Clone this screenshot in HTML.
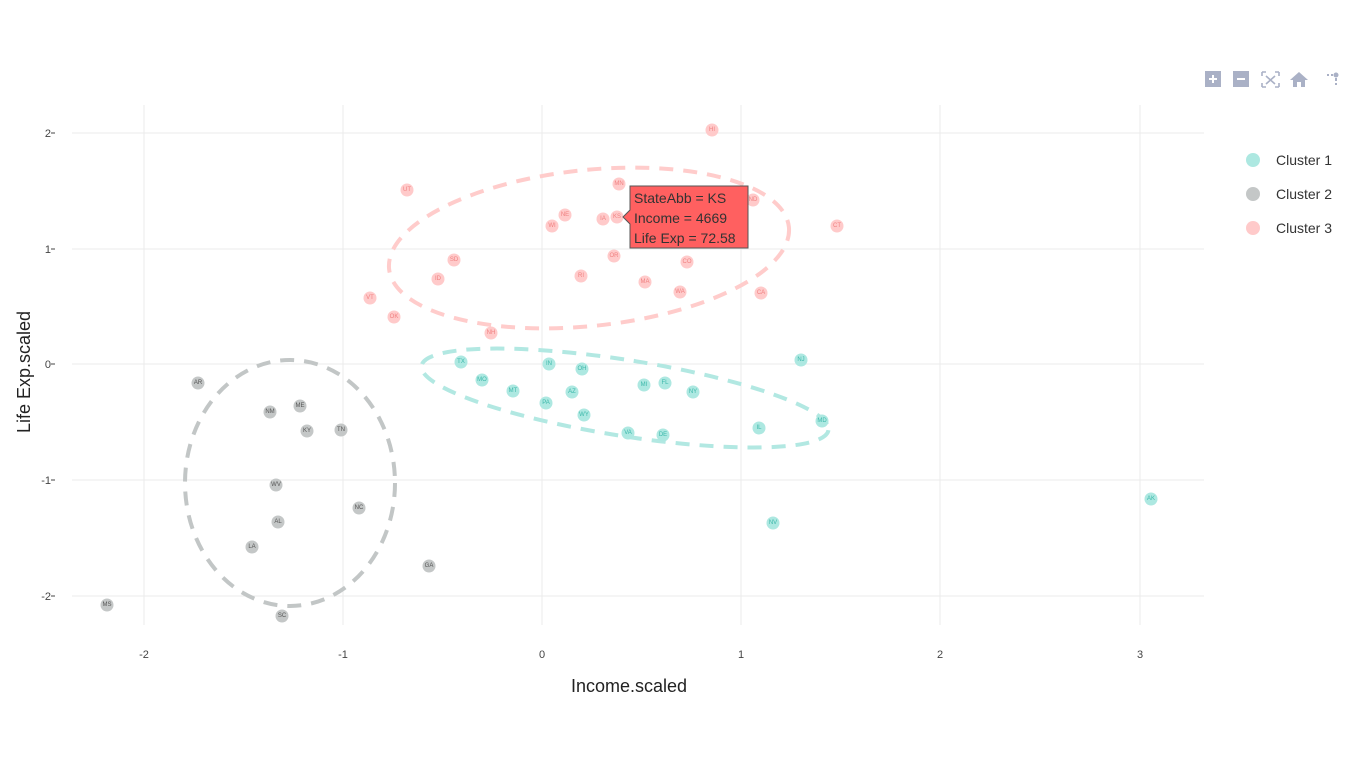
<!DOCTYPE html>
<html><head><meta charset="utf-8"><style>
body{margin:0;background:#fff;font-family:"Liberation Sans","DejaVu Sans",sans-serif;}
svg text{font-family:"Liberation Sans","DejaVu Sans",sans-serif;}
.lb{font-size:6px;text-anchor:middle;dominant-baseline:central;}
</style></head><body>
<svg width="1366" height="768" xmlns="http://www.w3.org/2000/svg">
<rect width="1366" height="768" fill="#fff"/>
<g stroke="#ebebeb" stroke-width="1">
<line x1="144" y1="105" x2="144" y2="625"/><line x1="343" y1="105" x2="343" y2="625"/>
<line x1="542" y1="105" x2="542" y2="625"/><line x1="741" y1="105" x2="741" y2="625"/>
<line x1="940" y1="105" x2="940" y2="625"/><line x1="1140" y1="105" x2="1140" y2="625"/>
<line x1="72" y1="133" x2="1204" y2="133"/><line x1="72" y1="249" x2="1204" y2="249"/>
<line x1="72" y1="364" x2="1204" y2="364"/><line x1="72" y1="480" x2="1204" y2="480"/>
<line x1="72" y1="596" x2="1204" y2="596"/>
</g>
<g stroke="#444" stroke-width="1">
<line x1="51" y1="133" x2="55" y2="133"/><line x1="51" y1="249" x2="55" y2="249"/><line x1="51" y1="364" x2="55" y2="364"/><line x1="51" y1="480" x2="55" y2="480"/><line x1="51" y1="596" x2="55" y2="596"/>
</g>
<g font-size="11" fill="#444" text-anchor="end">
<text x="51" y="137">2</text><text x="51" y="253">1</text><text x="51" y="368">0</text><text x="51" y="484">-1</text><text x="51" y="600">-2</text>
</g>
<g font-size="11" fill="#444" text-anchor="middle">
<text x="144" y="658">-2</text><text x="343" y="658">-1</text><text x="542" y="658">0</text><text x="741" y="658">1</text><text x="940" y="658">2</text><text x="1140" y="658">3</text>
</g>
<text x="629" y="692" font-size="18" fill="#222" text-anchor="middle">Income.scaled</text>
<text transform="translate(30,372) rotate(-90)" font-size="18" fill="#222" text-anchor="middle">Life Exp.scaled</text>

<g fill="none" stroke-width="4" stroke-dasharray="14,10">
<ellipse cx="589" cy="248" rx="201" ry="78" transform="rotate(-6 589 248)" stroke="#ffcccb"/>
<ellipse cx="625" cy="398" rx="206" ry="38" transform="rotate(9 625 398)" stroke="#b2e8e2"/>
<ellipse cx="290" cy="483" rx="105" ry="123" stroke="#c2c6c6"/>
</g>

<g fill="#ffcaca" >
<circle cx="712" cy="130" r="6.5"/><circle cx="407" cy="190" r="6.5"/><circle cx="619" cy="184" r="6.5"/><circle cx="753" cy="200" r="6.5"/><circle cx="565" cy="215" r="6.5"/><circle cx="603" cy="219" r="6.5"/><circle cx="617" cy="217" r="6.5"/><circle cx="552" cy="226" r="6.5"/><circle cx="837" cy="226" r="6.5"/><circle cx="614" cy="256" r="6.5"/><circle cx="687" cy="262" r="6.5"/><circle cx="454" cy="260" r="6.5"/><circle cx="438" cy="279" r="6.5"/><circle cx="581" cy="276" r="6.5"/><circle cx="645" cy="282" r="6.5"/><circle cx="680" cy="292" r="6.5"/><circle cx="761" cy="293" r="6.5"/><circle cx="370" cy="298" r="6.5"/><circle cx="394" cy="317" r="6.5"/><circle cx="491" cy="333" r="6.5"/>
</g>
<g fill="#f08080">
<text class="lb" x="712" y="130">HI</text><text class="lb" x="407" y="190">UT</text><text class="lb" x="619" y="184">MN</text><text class="lb" x="753" y="200">ND</text><text class="lb" x="565" y="215">NE</text><text class="lb" x="603" y="219">IA</text><text class="lb" x="617" y="217">KS</text><text class="lb" x="552" y="226">WI</text><text class="lb" x="837" y="226">CT</text><text class="lb" x="614" y="256">OR</text><text class="lb" x="687" y="262">CO</text><text class="lb" x="454" y="260">SD</text><text class="lb" x="438" y="279">ID</text><text class="lb" x="581" y="276">RI</text><text class="lb" x="645" y="282">MA</text><text class="lb" x="680" y="292">WA</text><text class="lb" x="761" y="293">CA</text><text class="lb" x="370" y="298">VT</text><text class="lb" x="394" y="317">OK</text><text class="lb" x="491" y="333">NH</text>
</g>

<g fill="#ade8e1">
<circle cx="461" cy="362" r="6.5"/><circle cx="549" cy="364" r="6.5"/><circle cx="582" cy="369" r="6.5"/><circle cx="482" cy="380" r="6.5"/><circle cx="513" cy="391" r="6.5"/><circle cx="572" cy="392" r="6.5"/><circle cx="644" cy="385" r="6.5"/><circle cx="665" cy="383" r="6.5"/><circle cx="693" cy="392" r="6.5"/><circle cx="546" cy="403" r="6.5"/><circle cx="584" cy="415" r="6.5"/><circle cx="628" cy="433" r="6.5"/><circle cx="663" cy="435" r="6.5"/><circle cx="759" cy="428" r="6.5"/><circle cx="822" cy="421" r="6.5"/><circle cx="801" cy="360" r="6.5"/><circle cx="773" cy="523" r="6.5"/><circle cx="1151" cy="499" r="6.5"/>
</g>
<g fill="#3cb8aa">
<text class="lb" x="461" y="362">TX</text><text class="lb" x="549" y="364">IN</text><text class="lb" x="582" y="369">OH</text><text class="lb" x="482" y="380">MO</text><text class="lb" x="513" y="391">MT</text><text class="lb" x="572" y="392">AZ</text><text class="lb" x="644" y="385">MI</text><text class="lb" x="665" y="383">FL</text><text class="lb" x="693" y="392">NY</text><text class="lb" x="546" y="403">PA</text><text class="lb" x="584" y="415">WY</text><text class="lb" x="628" y="433">VA</text><text class="lb" x="663" y="435">DE</text><text class="lb" x="759" y="428">IL</text><text class="lb" x="822" y="421">MD</text><text class="lb" x="801" y="360">NJ</text><text class="lb" x="773" y="523">NV</text><text class="lb" x="1151" y="499">AK</text>
</g>

<g fill="#c4c7c7">
<circle cx="198" cy="383" r="6.5"/><circle cx="270" cy="412" r="6.5"/><circle cx="300" cy="406" r="6.5"/><circle cx="307" cy="431" r="6.5"/><circle cx="341" cy="430" r="6.5"/><circle cx="276" cy="485" r="6.5"/><circle cx="359" cy="508" r="6.5"/><circle cx="278" cy="522" r="6.5"/><circle cx="252" cy="547" r="6.5"/><circle cx="429" cy="566" r="6.5"/><circle cx="107" cy="605" r="6.5"/><circle cx="282" cy="616" r="6.5"/>
</g>
<g fill="#555">
<text class="lb" x="198" y="383">AR</text><text class="lb" x="270" y="412">NM</text><text class="lb" x="300" y="406">ME</text><text class="lb" x="307" y="431">KY</text><text class="lb" x="341" y="430">TN</text><text class="lb" x="276" y="485">WV</text><text class="lb" x="359" y="508">NC</text><text class="lb" x="278" y="522">AL</text><text class="lb" x="252" y="547">LA</text><text class="lb" x="429" y="566">GA</text><text class="lb" x="107" y="605">MS</text><text class="lb" x="282" y="616">SC</text>
</g>

<path d="M623,217 L630,210 L630,186 L748,186 L748,248 L630,248 L630,224 Z" fill="#ff6060" stroke="#555" stroke-width="1"/>
<g font-size="14" fill="#333">
<text x="634" y="203">StateAbb = KS</text>
<text x="634" y="223">Income = 4669</text>
<text x="634" y="243">Life Exp = 72.58</text>
</g>

<g font-size="14" fill="#333">
<circle cx="1253" cy="160" r="7" fill="#ade8e1"/><text x="1276" y="165">Cluster 1</text>
<circle cx="1253" cy="194" r="7" fill="#c4c7c7"/><text x="1276" y="199">Cluster 2</text>
<circle cx="1253" cy="228" r="7" fill="#ffcaca"/><text x="1276" y="233">Cluster 3</text>
</g>

<g fill="#aab1c6">
<rect x="1205" y="71" width="16" height="16"/><rect x="1209" y="78" width="8" height="2" fill="#fff"/><rect x="1212" y="75" width="2" height="8" fill="#fff"/>
<rect x="1233" y="71" width="16" height="16"/><rect x="1237" y="78" width="8" height="2" fill="#fff"/>
<path d="M1262,72 h4 M1262,72 v4 M1279,72 h-4 M1279,72 v4 M1262,87 h4 M1262,87 v-4 M1279,87 h-4 M1279,87 v-4 M1266,76 l9,8 M1275,76 l-9,8" stroke="#aab1c6" stroke-width="1.6" fill="none"/>
<path d="M1290,80 L1299,72 L1308,80 L1305,80 L1305,87 L1301,87 L1301,82 L1297,82 L1297,87 L1293,87 L1293,80 Z"/>
<circle cx="1336" cy="75" r="2.5"/><rect x="1335" y="78" width="2" height="3"/><rect x="1335" y="83" width="2" height="2"/><rect x="1327" y="74" width="2" height="2"/><rect x="1331" y="74" width="2" height="2"/>
</g>
</svg>
</body></html>
